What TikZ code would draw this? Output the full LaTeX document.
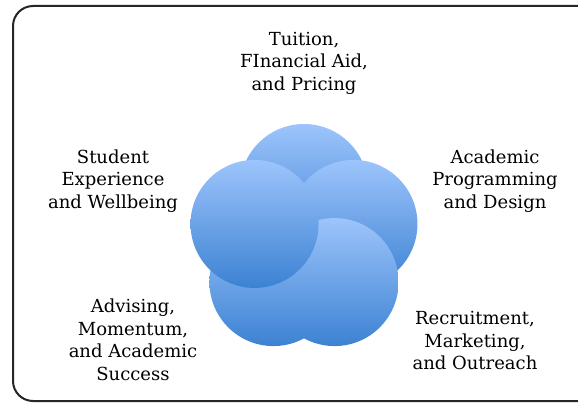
\documentclass[tikz,border=0pt]{standalone}
\usepackage{fontspec}
\setmainfont{DejaVu Serif}
\usetikzlibrary{calc}
\definecolor{petaltop}{RGB}{157,196,252}
\definecolor{petalmid}{RGB}{128,176,240}
\definecolor{petalbot}{RGB}{60,130,210}
\tikzset{
  petal/.style={circle, minimum size=128pt, inner sep=0pt, top color=petaltop, middle color=petalmid, bottom color=petalbot},
  area/.style={align=center, font=\fontsize{18}{22.5}\selectfont, inner sep=0pt}
}
\begin{document}
\begin{tikzpicture}[x=1pt,y=-1pt]
\useasboundingbox (0,0) rectangle (578,403);
\draw [line width=2pt, rounded corners=20pt, color=black!85] (13,6) rectangle (620,401);
% five overlapping circles
\coordinate (hub) at (304,240);
\node [petal] (tuition) at ($(hub)+(-90:52)$) {};
\node [petal] (programming) at ($(hub)+(-18:52)$) {};
\node [petal] (recruitment) at ($(hub)+(54:52)$) {};
\node [petal] (advising) at ($(hub)+(126:52)$) {};
\node [petal] (experience) at ($(hub)+(198:52)$) {};
% labels
\node [area] (tuitiontxt) at (304,63) {Tuition,\\FInancial Aid,\\and Pricing};
\node [area] (programmingtxt) at (495,181) {Academic\\Programming\\and Design};
\node [area] (recruitmenttxt) at (475,341) {Recruitment,\\Marketing,\\and Outreach};
\node [area] (advisingtxt) at (133,340) {Advising,\\Momentum,\\and Academic\\Success};
\node [area] (experiencetxt) at (113,181) {Student\\Experience\\and Wellbeing};
\end{tikzpicture}
\end{document}
